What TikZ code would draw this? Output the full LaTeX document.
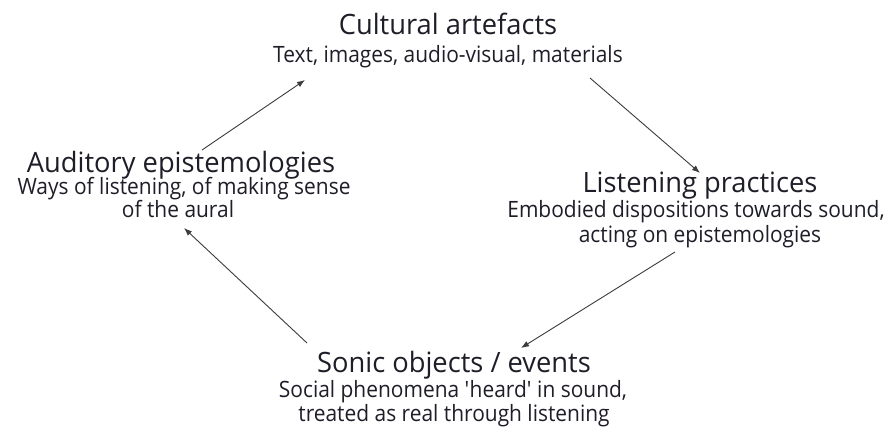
\documentclass[tikz,border=0pt]{standalone}
\usepackage{fontspec}
\setmainfont{Open Sans}
\newfontfamily\headfont[FakeStretch=0.975]{Open Sans}
\newfontfamily\subfont[FakeStretch=0.93]{Open Sans}
\usetikzlibrary{arrows.meta}
\definecolor{ink}{HTML}{1E1E28}
\definecolor{wire}{HTML}{3C3C3C}
\tikzset{
  headline/.style={anchor=base, inner sep=0pt, text=ink, font=\headfont\fontsize{28}{32}\selectfont},
  subline/.style={anchor=base, inner sep=0pt, text=ink, font=\subfont\fontsize{22.5}{26}\selectfont},
  flow/.style={draw=wire, line width=0.9pt, -{Latex[length=8pt,width=6pt]}},
}
\begin{document}
\begin{tikzpicture}[x=1pt,y=1pt]
  \useasboundingbox (0,0) rectangle (891,430);
  \fill[white] (0,0) rectangle (891,430);

  % Cultural artefacts (top)
  \node[headline] (cultT) at (448,395) {Cultural artefacts};
  \node[subline]  (cultS) at (448,367) {Text, images, audio-visual, materials};

  % Listening practices (right)
  \node[headline] (listT) at (700,237) {Listening practices};
  \node[subline]  (listS1) at (696,212) {Embodied dispositions towards sound,};
  \node[subline]  (listS2) at (700,187) {acting on epistemologies};

  % Sonic objects / events (bottom)
  \node[headline] (sonT) at (454,57) {Sonic objects / events};
  \node[subline]  (sonS1) at (453,32) {Social phenomena \textquotesingle heard\textquotesingle{} in sound,};
  \node[subline]  (sonS2) at (454,8) {treated as real through listening};

  % Auditory epistemologies (left)
  \node[headline] (audT) at (181,257) {Auditory epistemologies};
  \node[subline]  (audS1) at (184,235) {Ways of listening, of making sense};
  \node[subline]  (audS2) at (178,212) {of the aural};

  % arrow ends around the cycle
  \coordinate (a1) at (202,280);
  \coordinate (b1) at (305,350);
  \coordinate (a2) at (590,352);
  \coordinate (b2) at (700,257);
  \coordinate (a3) at (675,178);
  \coordinate (b3) at (521,82);
  \coordinate (a4) at (307,87);
  \coordinate (b4) at (184,202);

  \draw[flow] (a1) -- (b1);
  \draw[flow] (a2) -- (b2);
  \draw[flow] (a3) -- (b3);
  \draw[flow] (a4) -- (b4);
\end{tikzpicture}
\end{document}
